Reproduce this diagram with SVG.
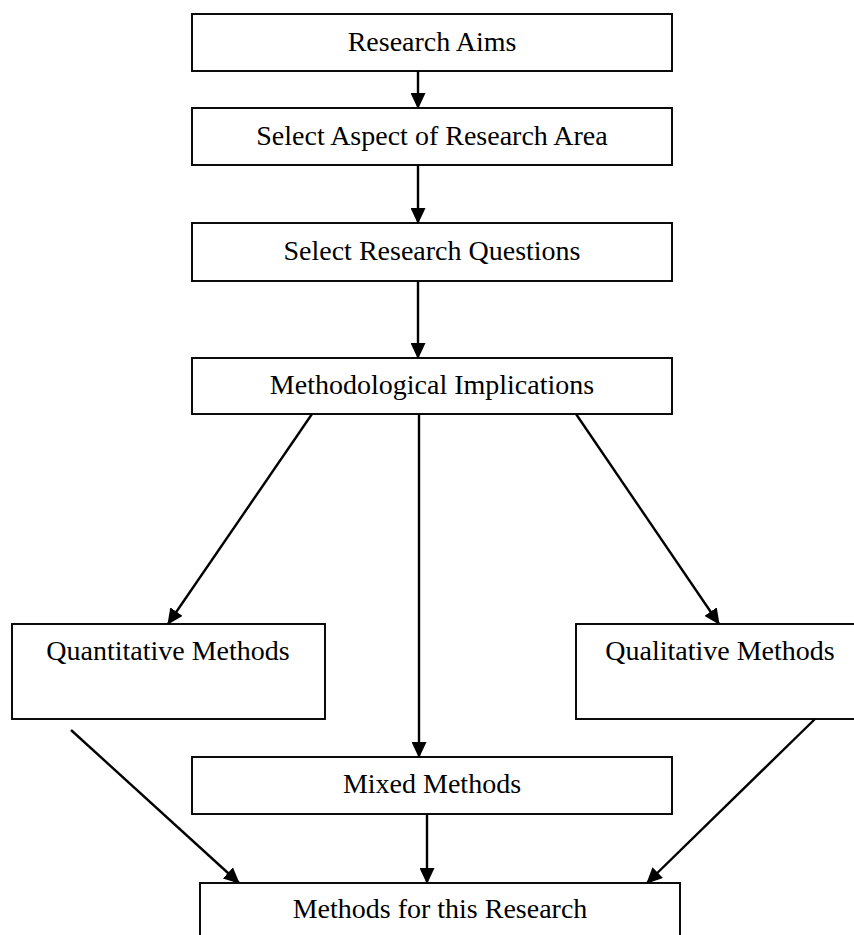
<svg xmlns="http://www.w3.org/2000/svg" width="854" height="935" viewBox="0 0 854 935">
<defs>
<style>
.box{fill:#fff;stroke:#000;stroke-width:1.9}
.lbl{font-family:"Liberation Serif","Times New Roman",serif;font-size:28px;fill:#000;text-anchor:middle}
.con{stroke:#000;stroke-width:2.4;fill:none;marker-end:url(#ah)}
</style>
<marker id="ah" viewBox="0 0 16 15" markerWidth="16" markerHeight="15" refX="15" refY="7.5" orient="auto" markerUnits="userSpaceOnUse">
<path d="M0,0 L16,7.5 L0,15 z" fill="#000"/>
</marker>
</defs>
<rect width="854" height="935" fill="#fff"/>
<g id="connectors">
<line class="con" x1="418" y1="71" x2="418" y2="108"/>
<line class="con" x1="418" y1="165" x2="418" y2="223"/>
<line class="con" x1="418" y1="281" x2="418" y2="358"/>
<line class="con" x1="312" y1="414" x2="168" y2="624"/>
<line class="con" x1="419" y1="414" x2="419" y2="757"/>
<line class="con" x1="576" y1="414" x2="719" y2="624"/>
<line class="con" x1="71" y1="730" x2="239" y2="883"/>
<line class="con" x1="427" y1="814" x2="427" y2="883"/>
<line class="con" x1="815" y1="719" x2="647" y2="883"/>
</g>
<g id="research-aims">
<rect class="box" x="192" y="14" width="480" height="57"/>
<text class="lbl" x="432" y="51">Research Aims</text>
</g>
<g id="select-aspect">
<rect class="box" x="192" y="108" width="480" height="57"/>
<text class="lbl" x="432" y="145">Select Aspect of Research Area</text>
</g>
<g id="select-questions">
<rect class="box" x="192" y="223" width="480" height="58"/>
<text class="lbl" x="432" y="260">Select Research Questions</text>
</g>
<g id="methodological">
<rect class="box" x="192" y="358" width="480" height="56"/>
<text class="lbl" x="432" y="394">Methodological Implications</text>
</g>
<g id="quantitative">
<rect class="box" x="12" y="624" width="313" height="95"/>
<text class="lbl" x="168" y="660">Quantitative Methods</text>
</g>
<g id="qualitative">
<rect class="box" x="576" y="624" width="290" height="95"/>
<text class="lbl" x="720" y="660">Qualitative Methods</text>
</g>
<g id="mixed">
<rect class="box" x="192" y="757" width="480" height="57"/>
<text class="lbl" x="432" y="793">Mixed Methods</text>
</g>
<g id="methods-research">
<rect class="box" x="200" y="883" width="480" height="70"/>
<text class="lbl" x="440" y="918">Methods for this Research</text>
</g>
</svg>
